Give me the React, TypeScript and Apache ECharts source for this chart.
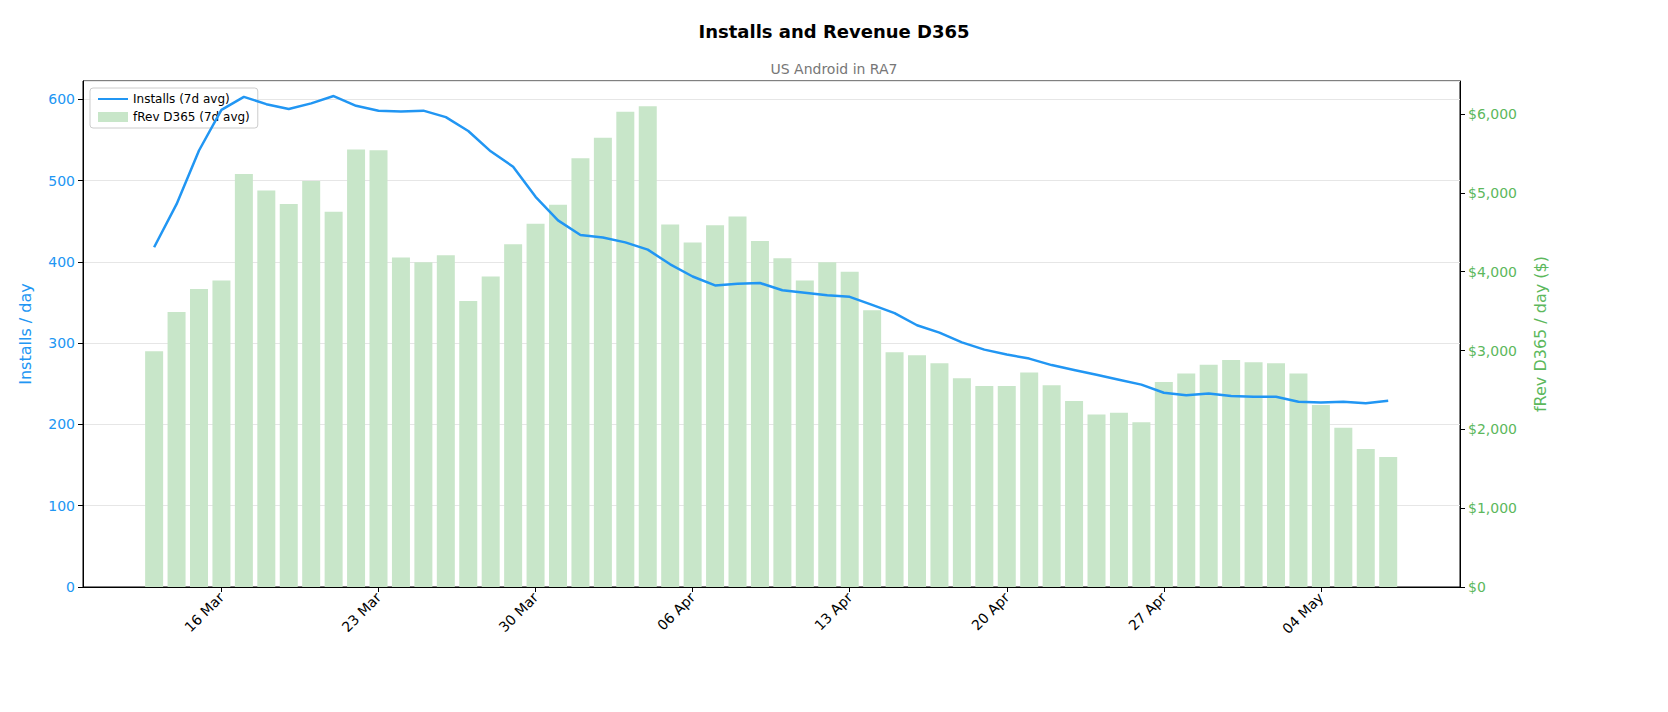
import React, { useEffect, useRef } from 'react'
import * as echarts from 'echarts'

// day 0 = 13 Mar
const startDate = Date.UTC(2025, 2, 13)
const months = ['Jan', 'Feb', 'Mar', 'Apr', 'May', 'Jun', 'Jul', 'Aug', 'Sep', 'Oct', 'Nov', 'Dec']
const tickDays = [3, 10, 17, 24, 31, 38, 45, 52]

const revenue = [
  2990, 3490, 3780, 3890, 5240, 5030, 4860, 5150, 4760, 5550, 5540, 4180, 4120, 4210,
  3630, 3940, 4350, 4610, 4850, 5440, 5700, 6030, 6100, 4600, 4370, 4590, 4700, 4390,
  4170, 3890, 4120, 4000, 3510, 2980, 2940, 2840, 2650, 2550, 2550, 2720, 2560, 2360,
  2190, 2210, 2090, 2600, 2710, 2820, 2880, 2850, 2840, 2710, 2310, 2020, 1750, 1650,
]

const installs = [
  418, 471, 537, 587, 603, 594, 588, 595, 604, 592, 586, 585, 586, 578,
  561, 536, 517, 480, 451, 433, 430, 424, 415, 397, 382, 371, 373, 374,
  365, 362, 359, 357, 347, 337, 322, 313, 301, 292, 286, 281, 273, 267,
  261, 255, 249, 239, 236, 238, 235, 234, 234, 228, 227, 228, 226, 229,
]

const dayLabel = (d: number) => {
  const dt = new Date(startDate + Math.round(d) * 86400000)
  return String(dt.getUTCDate()).padStart(2, '0') + ' ' + months[dt.getUTCMonth()]
}

const App: React.FC = () => {
  const chartRef = useRef<HTMLDivElement>(null)

  useEffect(() => {
    if (!chartRef.current) return
    const chart = echarts.init(chartRef.current, null, { renderer: 'svg' })
    const font = 'DejaVu Sans'
    chart.setOption({
      animation: false,
      textStyle: { fontFamily: font },
      title: [
        { text: 'Installs and Revenue D365', left: 'center', top: 9, textStyle: { fontSize: 18, fontWeight: 'bold', color: '#000', fontFamily: font } },
        { text: 'US Android in RA7', left: 'center', top: 49, textStyle: { fontSize: 14, fontWeight: 'normal', color: '#777', fontFamily: font } },
      ],
      legend: {
        left: 82, top: 80, orient: 'vertical', itemGap: 6,
        backgroundColor: 'rgba(255,255,255,0.85)', borderColor: '#ccc', borderWidth: 1, borderRadius: 3,
        padding: [5, 8], itemWidth: 30, itemHeight: 10,
        textStyle: { fontSize: 12, color: '#000' },
        data: [
          { name: 'Installs (7d avg)', icon: 'path://M0,5L30,5L30,7L0,7Z' },
          { name: 'fRev D365 (7d avg)', icon: 'rect' },
        ],
      },
      grid: { left: 75, right: 200, top: 73, bottom: 117, show: true, borderColor: '#000', borderWidth: 1 },
      xAxis: {
        type: 'value', min: -3.17, max: 58.2,
        splitLine: { show: false },
        axisLine: { onZero: false, lineStyle: { color: '#000' } },
        axisTick: { show: true, customValues: tickDays, length: 5, lineStyle: { color: '#000' } },
        axisLabel: { customValues: tickDays, rotate: 45, fontSize: 14, color: '#000', formatter: (v: number) => dayLabel(v) },
      },
      yAxis: [
        {
          type: 'value', min: 0, max: 622.5, interval: 100,
          name: 'Installs / day', nameLocation: 'middle', nameGap: 50,
          nameTextStyle: { color: '#2196f3', fontSize: 16 },
          axisLine: { show: true, onZero: false, lineStyle: { color: '#000' } },
          axisTick: { show: true, length: 5, lineStyle: { color: '#000' } },
          axisLabel: { color: '#2196f3', fontSize: 14, showMaxLabel: false },
          splitLine: { lineStyle: { color: '#e6e6e6' } },
        },
        {
          type: 'value', min: 0, max: 6420, interval: 1000, position: 'right',
          name: 'fRev D365 / day ($)', nameLocation: 'middle', nameGap: 72, nameRotate: 90,
          nameTextStyle: { color: '#5cb85c', fontSize: 16 },
          axisLine: { show: true, onZero: false, lineStyle: { color: '#000' } },
          axisTick: { show: true, length: 5, lineStyle: { color: '#000' } },
          axisLabel: { color: '#5cb85c', fontSize: 14, showMaxLabel: false, formatter: (v: number) => '$' + v.toLocaleString('en-US') },
          splitLine: { show: false },
        },
      ],
      series: [
        {
          name: 'fRev D365 (7d avg)', type: 'bar', yAxisIndex: 1, barWidth: 18,
          itemStyle: { color: '#c8e6c9' },
          data: revenue.map((v, i) => [i, v]),
        },
        {
          name: 'Installs (7d avg)', type: 'line', yAxisIndex: 0, symbol: 'none', z: 5,
          lineStyle: { color: '#2196f3', width: 2.5 }, itemStyle: { color: '#2196f3' },
          data: installs.map((v, i) => [i, v]),
        },
      ],
    })
    return () => chart.dispose()
  }, [])

  return <div ref={chartRef} style={{ width: 1652, height: 696 }} />
}

export default App
